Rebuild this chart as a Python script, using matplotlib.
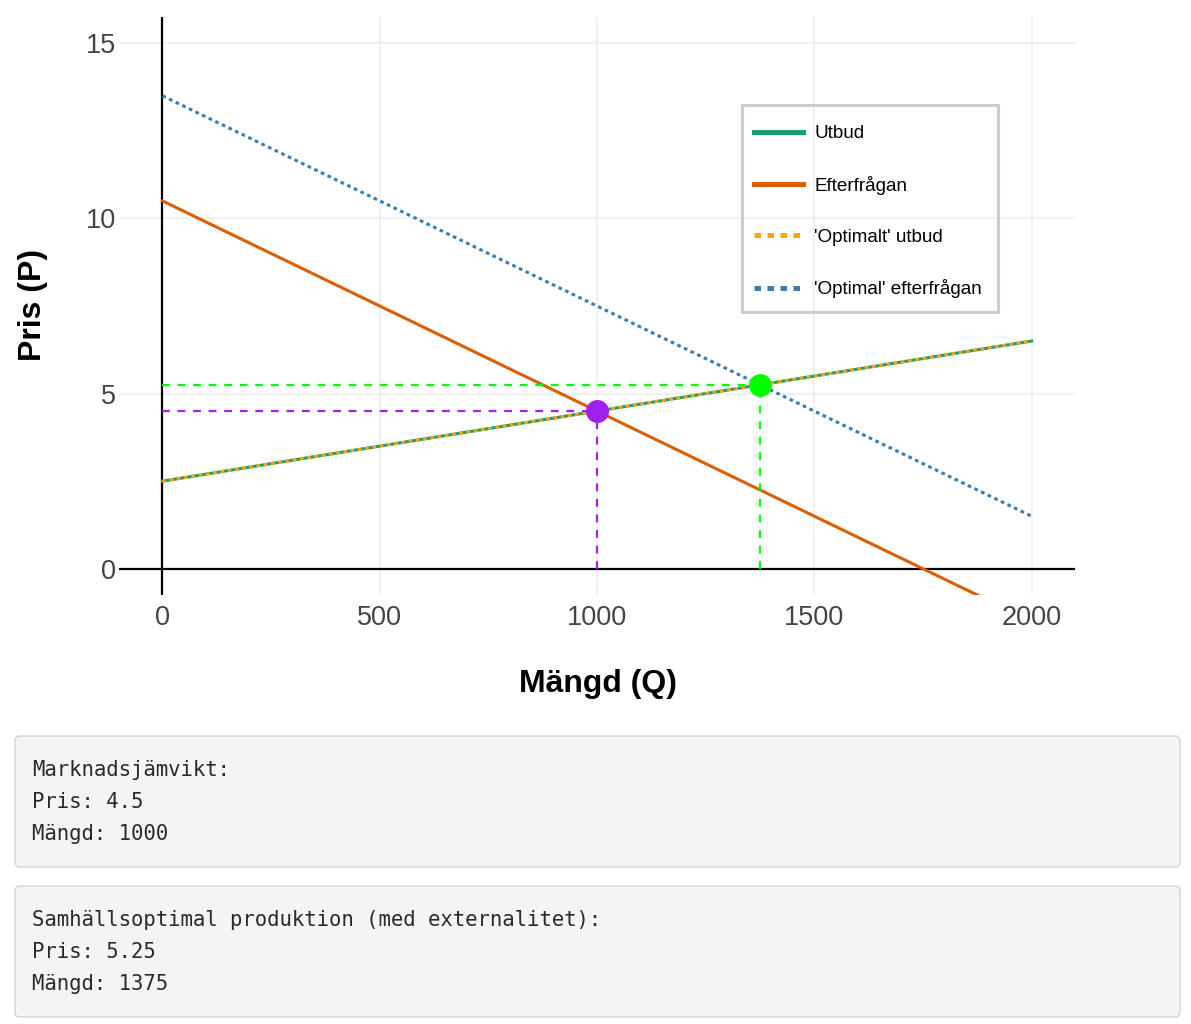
import matplotlib
matplotlib.use("Agg")
import matplotlib.pyplot as plt
from matplotlib.lines import Line2D
from matplotlib.patches import FancyBboxPatch, Rectangle

# ---- data ----
Q_ENDS = [0, 2000]
SUPPLY_P = [2.5, 6.5]
DEMAND_P = [10.5, -1.5]
OPT_SUPPLY_P = [2.5, 6.5]
OPT_DEMAND_P = [13.5, 1.5]
MARKET_Q, MARKET_P = 1000, 4.5
OPTIMAL_Q, OPTIMAL_P = 1375, 5.25
X_TICKS = [0, 500, 1000, 1500, 2000]
Y_TICKS = [0, 5, 10, 15]
LABELS = ["Utbud", "Efterfrågan", "'Optimalt' utbud", "'Optimal' efterfrågan"]
BOX1_LINES = ["Marknadsjämvikt:", f"Pris: {MARKET_P}", f"Mängd: {MARKET_Q}"]
BOX2_LINES = ["Samhällsoptimal produktion (med externalitet):",
              f"Pris: {OPTIMAL_P}", f"Mängd: {OPTIMAL_Q}"]

GREEN = "#1b9e77"
ORANGE = "#d95f02"
GOLD = "#ffa500"
BLUE = "#377eb8"
PURPLE = "#a020f0"
LIME = "#00ff00"

W, H = 1191, 1024
plt.rcParams["font.family"] = ["Liberation Sans", "DejaVu Sans"]

fig = plt.figure(figsize=(W / 100, H / 100), dpi=100)
ax = fig.add_axes([119 / W, 1 - 595 / H, (1075 - 119) / W, (595 - 17) / H])

lw = 2.2
dots = (0, (1.2, 1.2))
guide = (0, (3.5, 3.5))
ax.plot(Q_ENDS, SUPPLY_P, color=GREEN, lw=lw, zorder=3)
ax.plot(Q_ENDS, DEMAND_P, color=ORANGE, lw=lw, zorder=3)
ax.plot(Q_ENDS, OPT_SUPPLY_P, color=GOLD, lw=lw, ls=dots, zorder=4)
ax.plot(Q_ENDS, OPT_DEMAND_P, color=BLUE, lw=lw, ls=dots, zorder=4)

# guide lines to the equilibria
ax.plot([0, MARKET_Q], [MARKET_P, MARKET_P], color=PURPLE, lw=1.6,
        ls=guide, zorder=5)
ax.plot([MARKET_Q, MARKET_Q], [0, MARKET_P], color=PURPLE, lw=1.6,
        ls=guide, zorder=5)
ax.plot([0, OPTIMAL_Q], [OPTIMAL_P, OPTIMAL_P], color=LIME, lw=1.6,
        ls=guide, zorder=5)
ax.plot([OPTIMAL_Q, OPTIMAL_Q], [0, OPTIMAL_P], color=LIME, lw=1.6,
        ls=guide, zorder=5)
ax.plot([MARKET_Q], [MARKET_P], "o", color=PURPLE, ms=16.5, mew=0, zorder=6)
ax.plot([OPTIMAL_Q], [OPTIMAL_P], "o", color=LIME, ms=16.5, mew=0, zorder=6)

ax.axhline(0, color="black", lw=1.6, zorder=2)
ax.axvline(0, color="black", lw=1.6, zorder=2)

ax.set_xlim(-100, 2100)
ax.set_ylim(-0.75, 15.75)
ax.set_xticks(X_TICKS)
ax.set_yticks(Y_TICKS)
ax.grid(True, color="#eeeeee", lw=1.2, zorder=0)
ax.set_axisbelow(True)
for s in ax.spines.values():
    s.set_visible(False)
ax.tick_params(length=0, labelsize=19.5, labelcolor="#444444")
ax.tick_params(axis="x", pad=7)
ax.tick_params(axis="y", pad=2)

fig.text(598 / W, 1 - 684 / H, "Mängd (Q)", fontsize=23, fontweight="bold",
         ha="center", va="center")
fig.text(33 / W, 1 - 305 / H, "Pris (P)", fontsize=23, fontweight="bold",
         ha="center", va="center", rotation=90)

# legend: entries via matplotlib, frame drawn separately (plotly-like box)
handles = [Line2D([], [], color=GREEN, lw=3.6),
           Line2D([], [], color=ORANGE, lw=3.6),
           Line2D([], [], color=GOLD, lw=3.6, ls=(0, (1.3, 1.3))),
           Line2D([], [], color=BLUE, lw=3.6, ls=(0, (1.3, 1.3)))]
fig.legend(handles, LABELS, loc="upper left",
           bbox_to_anchor=(754 / W, 1 - 125 / H), fontsize=13.6,
           handlelength=2.6, handletextpad=0.6, labelspacing=1.78,
           borderpad=0, borderaxespad=0, frameon=False)
fig.patches.append(Rectangle((742 / W, 1 - 312 / H), 256 / W, 207 / H,
                             transform=fig.transFigure, facecolor="none",
                             edgecolor="#cccccc", lw=2.2, zorder=10))

# result boxes below the chart
for top, lines in [(736, BOX1_LINES), (886, BOX2_LINES)]:
    box = FancyBboxPatch((15 / 100, (H - top - 131) / 100), 11.65, 1.31,
                         boxstyle="round,pad=0,rounding_size=0.05",
                         transform=fig.dpi_scale_trans, facecolor="#f4f4f4",
                         edgecolor="#d4d4d4", lw=1.0)
    fig.patches.append(box)
    for i, line in enumerate(lines):
        fig.text(32 / W, 1 - (top + 34 + 32 * i) / H, line,
                 family="DejaVu Sans Mono", fontsize=14.9, color="#2a2a2a",
                 ha="left", va="center")

fig.savefig("out.png", dpi=100)
